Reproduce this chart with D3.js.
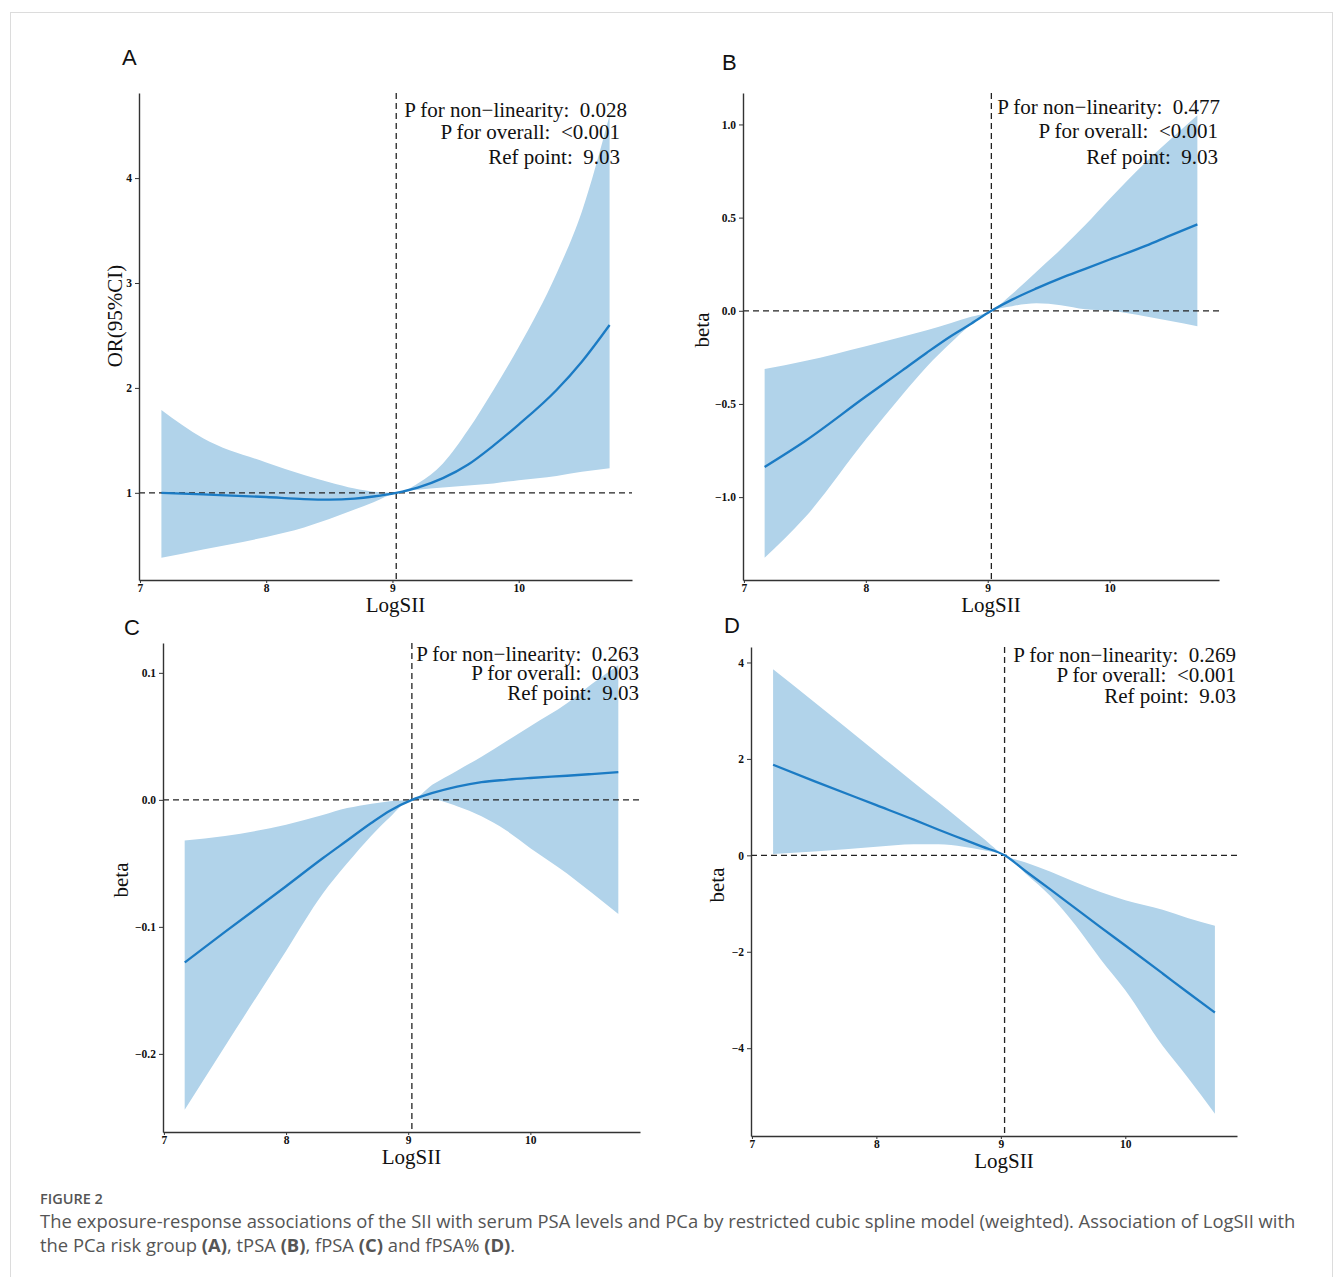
<!DOCTYPE html>
<html>
<head>
<meta charset="utf-8">
<script src="https://cdn.jsdelivr.net/npm/d3@7"></script>
<style>
  body { margin: 0; background: #fff; }
</style>
</head>
<body>
<div id="container"></div>
<script>
// LogSII grid shared by the four spline panels
let logSII = [7.17, 7.5, 8.0, 8.3, 8.5, 8.7, 8.85, 9.03, 9.2, 9.4, 9.6, 9.8, 10.0, 10.3, 10.5, 10.72];

// A: PCa risk group, OR (95%CI)
let aFit  = [1.00, 0.985, 0.96, 0.94, 0.935, 0.945, 0.965, 1.0, 1.05, 1.14, 1.27, 1.45, 1.65, 1.98, 2.25, 2.60];
let aLow  = [0.38, 0.46, 0.58, 0.67, 0.75, 0.84, 0.91, 1.0, 1.03, 1.05, 1.07, 1.09, 1.12, 1.16, 1.20, 1.235];
let aHigh = [1.79, 1.52, 1.29, 1.17, 1.10, 1.04, 1.01, 1.0, 1.09, 1.28, 1.60, 1.98, 2.39, 3.09, 3.68, 4.60];

// B: tPSA, beta
let bFit  = [-0.838, -0.70, -0.46, -0.32, -0.225, -0.135, -0.075, 0, 0.06, 0.12, 0.175, 0.225, 0.275, 0.35, 0.405, 0.464];
let bLow  = [-1.326, -1.11, -0.69, -0.45, -0.30, -0.17, -0.08, 0, 0.025, 0.04, 0.03, 0.008, 0.0, -0.03, -0.055, -0.083];
let bHigh = [-0.313, -0.27, -0.19, -0.14, -0.105, -0.065, -0.035, 0, 0.09, 0.21, 0.33, 0.46, 0.60, 0.80, 0.92, 1.05];

// C: fPSA, beta
let cFit  = [-0.128, -0.104, -0.068, -0.046, -0.032, -0.018, -0.0085, 0, 0.0055, 0.0105, 0.014, 0.0158, 0.0172, 0.019, 0.0203, 0.0218];
let cLow  = [-0.244, -0.194, -0.119, -0.074, -0.050, -0.028, -0.0136, 0, 0.0, -0.005, -0.013, -0.024, -0.038, -0.058, -0.073, -0.0898];
let cHigh = [-0.032, -0.0285, -0.0195, -0.012, -0.0065, -0.003, -0.001, 0, 0.012, 0.023, 0.034, 0.046, 0.058, 0.076, 0.091, 0.106];

// D: fPSA%, beta
let dFit  = [1.88, 1.54, 1.04, 0.74, 0.53, 0.33, 0.18, 0, -0.33, -0.71, -1.10, -1.49, -1.87, -2.45, -2.84, -3.26];
let dLow  = [0.03, 0.08, 0.18, 0.23, 0.23, 0.18, 0.11, 0, -0.38, -0.85, -1.45, -2.15, -2.80, -3.95, -4.60, -5.36];
let dHigh = [3.86, 3.18, 2.14, 1.51, 1.10, 0.68, 0.37, 0, -0.15, -0.34, -0.56, -0.76, -0.93, -1.13, -1.30, -1.46];

// ticks and labels
let xTicks = [7, 8, 9, 10];
let aTicks = [1, 2, 3, 4];
let bTicks = [-1.0, -0.5, 0.0, 0.5, 1.0];
let cTicks = [-0.2, -0.1, 0.0, 0.1];
let dTicks = [-4, -2, 0, 2, 4];
let refPoint = 9.03;
let panelLetters = ["A", "B", "C", "D"];
let yTitles = ["OR(95%CI)", "beta", "beta", "beta"];
let pNonLinear = ["0.028", "0.477", "0.263", "0.269"];
let pOverall = ["<0.001", "<0.001", "0.003", "<0.001"];

let w = 1335, h = 1277;
let serif = "'Liberation Serif', 'Times New Roman', serif";

let viz = d3.select("#container")
  .append("svg")
    .attr("width", w)
    .attr("height", h)
    .style("display", "block")
;

// light frame around the figure
viz.append("rect")
  .attr("x", 10.5).attr("y", 12.5)
  .attr("width", 1322).attr("height", 1290)
  .attr("fill", "none")
  .attr("stroke", "#dcdcdc")
  .attr("stroke-width", 1)
;

// panel layout (pixels)
let panels = [
  {fit: aFit, low: aLow, high: aHigh, ticks: aTicks, fmt: d3.format("d"), ref: 1,
   left: 139, right: 632, top: 93, bottom: 580,
   letter: [122, 65], yTitle: [122, 316], anno: [[627, 24], [620, 46], [620, 71]]},
  {fit: bFit, low: bLow, high: bHigh, ticks: bTicks, fmt: d3.format(".1f"), ref: 0,
   left: 743, right: 1219, top: 93, bottom: 580,
   letter: [722, 70], yTitle: [709, 330], anno: [[1220, 21], [1218, 45], [1218, 71]]},
  {fit: cFit, low: cLow, high: cHigh, ticks: cTicks, fmt: d3.format(".1f"), ref: 0,
   left: 163, right: 640, top: 643, bottom: 1132,
   letter: [124, 635], yTitle: [128, 880], anno: [[639, 18], [639, 37], [639, 57]]},
  {fit: dFit, low: dLow, high: dHigh, ticks: dTicks, fmt: d3.format("d"), ref: 0,
   left: 751, right: 1237, top: 647, bottom: 1136,
   letter: [724, 633], yTitle: [724, 885], anno: [[1236, 15], [1236, 35], [1236, 56]]}
];

// ggplot style 5% expansion
function expand(ext){
  let pad = (ext[1] - ext[0]) * 0.05;
  return [ext[0] - pad, ext[1] + pad];
}

panels.forEach(function(p, i){
  let g = viz.append("g").attr("class", "panel");

  let x = d3.scaleLinear()
    .domain(expand(d3.extent(logSII)))
    .range([p.left, p.right]);
  let y = d3.scaleLinear()
    .domain(expand([d3.min(p.low), d3.max(p.high)]))
    .range([p.bottom, p.top]);

  let rows = logSII.map((v, j) => ({x: v, fit: p.fit[j], lo: p.low[j], hi: p.high[j]}));

  // confidence band
  g.append("path")
    .datum(rows)
    .attr("fill", "#b1d3ea")
    .attr("d", d3.area()
      .x(d => x(d.x))
      .y0(d => y(d.lo))
      .y1(d => y(d.hi))
      .curve(d3.curveMonotoneX))
  ;

  // reference lines
  g.append("line")
    .attr("x1", x(refPoint)).attr("x2", x(refPoint))
    .attr("y1", p.top).attr("y2", p.bottom)
    .attr("stroke", "#222").attr("stroke-width", 1.3)
    .attr("stroke-dasharray", "6,4")
  ;
  g.append("line")
    .attr("x1", p.left).attr("x2", p.right)
    .attr("y1", y(p.ref)).attr("y2", y(p.ref))
    .attr("stroke", "#222").attr("stroke-width", 1.3)
    .attr("stroke-dasharray", "6,4")
  ;

  // spline fit
  g.append("path")
    .datum(rows)
    .attr("fill", "none")
    .attr("stroke", "#1b7bc4")
    .attr("stroke-width", 2.3)
    .attr("d", d3.line()
      .x(d => x(d.x))
      .y(d => y(d.fit))
      .curve(d3.curveMonotoneX))
  ;

  // axes
  let xAxis = g.append("g")
    .attr("transform", `translate(0,${p.bottom})`)
    .call(d3.axisBottom(x).tickValues(xTicks).tickFormat(d3.format("d")).tickSize(3).tickSizeOuter(0).tickPadding(1));
  let yAxis = g.append("g")
    .attr("transform", `translate(${p.left},0)`)
    .call(d3.axisLeft(y).tickValues(p.ticks).tickFormat(p.fmt).tickSize(4).tickSizeOuter(0).tickPadding(3));

  [xAxis, yAxis].forEach(function(ax){
    ax.select(".domain").attr("stroke", "#333").attr("stroke-width", 1.4);
    ax.selectAll(".tick line").attr("stroke", "#333").attr("stroke-width", 1);
    ax.selectAll(".tick text")
      .attr("fill", "#111")
      .style("font-family", serif)
      .style("font-size", "11.5px")
      .style("font-weight", "bold");
  });

  // axis titles
  g.append("text")
    .text("LogSII")
    .attr("x", (p.left + p.right) / 2 + 10)
    .attr("y", p.bottom + 32)
    .attr("text-anchor", "middle")
    .style("font-family", serif)
    .style("font-size", "21px")
    .attr("fill", "#111")
  ;
  g.append("text")
    .text(yTitles[i])
    .attr("transform", `translate(${p.yTitle[0]},${p.yTitle[1]}) rotate(-90)`)
    .attr("text-anchor", "middle")
    .style("font-family", serif)
    .style("font-size", "21px")
    .attr("fill", "#111")
  ;

  // panel letter
  g.append("text")
    .text(panelLetters[i])
    .attr("x", p.letter[0])
    .attr("y", p.letter[1])
    .style("font-family", "'Liberation Sans', Arial, sans-serif")
    .style("font-size", "22px")
    .attr("fill", "#111")
  ;

  // annotation
  let lines = [
    "P for non\u2212linearity:  " + pNonLinear[i],
    "P for overall:  " + pOverall[i],
    "Ref point:  " + refPoint.toFixed(2)
  ];
  g.selectAll(".anno").data(lines).enter()
    .append("text")
      .attr("class", "anno")
      .text(d => d)
      .attr("x", (d, j) => p.anno[j][0])
      .attr("y", (d, j) => p.top + p.anno[j][1])
      .attr("text-anchor", "end")
      .style("white-space", "pre")
      .style("font-family", serif)
      .style("font-size", "21px")
      .attr("fill", "#111")
  ;
});

// caption
let sans = "'Open Sans', 'Noto Sans', sans-serif";
viz.append("text")
  .text("FIGURE 2")
  .attr("x", 40).attr("y", 1204)
  .style("font-family", sans)
  .style("font-size", "14.5px")
  .style("font-weight", "600")
  .attr("fill", "#555")
;

let captionLines = [
  [["The exposure-response associations of the SII with serum PSA levels and PCa by restricted cubic spline model (weighted). Association of LogSII with", false]],
  [["the PCa risk group ", false], ["(A)", true], [", tPSA ", false], ["(B)", true], [", fPSA ", false], ["(C)", true], [" and fPSA% ", false], ["(D)", true], [".", false]]
];
captionLines.forEach(function(parts, k){
  let t = viz.append("text")
    .attr("x", 40).attr("y", 1228 + k * 24)
    .style("font-family", sans)
    .style("font-size", "18.4px")
    .style("white-space", "pre")
    .attr("fill", "#555");
  parts.forEach(function(pt){
    t.append("tspan")
      .text(pt[0])
      .style("font-weight", pt[1] ? "bold" : "normal");
  });
});
</script>
</body>
</html>
